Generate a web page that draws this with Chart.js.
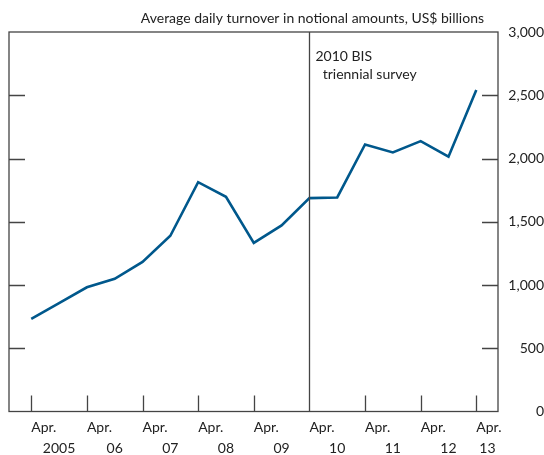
<!DOCTYPE html>
<html>
<head>
<meta charset="utf-8">
<script src="https://cdn.jsdelivr.net/npm/chart.js@4/dist/chart.umd.min.js"></script>
<style>
  html, body { margin: 0; padding: 0; background: #fff; }
  #wrap { width: 544px; height: 455px; position: relative; }
</style>
</head>
<body>
<div id="wrap"><canvas id="chTurnover"></canvas></div>
<script>
// Semiannual survey points, Apr. 2005 to Apr. 2013 (index 0..16)
const periods = [
  'Apr. 2005', 'Oct. 2005', 'Apr. 2006', 'Oct. 2006', 'Apr. 2007', 'Oct. 2007',
  'Apr. 2008', 'Oct. 2008', 'Apr. 2009', 'Oct. 2009', 'Apr. 2010', 'Oct. 2010',
  'Apr. 2011', 'Oct. 2011', 'Apr. 2012', 'Oct. 2012', 'Apr. 2013'
];
const turnover = [
  733, 857, 982, 1049, 1183, 1389, 1813, 1697, 1333, 1471,
  1687, 1692, 2111, 2048, 2137, 2014, 2542
];
const monthLabels = ['Apr.', 'Apr.', 'Apr.', 'Apr.', 'Apr.', 'Apr.', 'Apr.', 'Apr.', 'Apr.'];
const yearLabels = ['2005', '06', '07', '08', '09', '10', '11', '12', '13'];
const surveyIndex = 10; // Apr. 2010
const surveyNote = ['2010 BIS', '  triennial survey'];
const unitsTitle = 'Average daily turnover in notional amounts, US$ billions';

const FONT = 'Lato, "Open Sans", sans-serif';
const INK = '#222';
const FRAME = '#444';
const LINE = '#00588c';

const fmtInt = (v) => Number(v).toLocaleString('en-US');

// marco, marcas interiores, línea del sondeo y título
const framePlugin = {
  id: 'frame',
  afterDraw(chart) {
    const { ctx, chartArea: a, scales } = chart;
    const x = scales.x, y = scales.y;
    ctx.save();
    ctx.strokeStyle = FRAME;
    ctx.lineWidth = 1.3;
    ctx.strokeRect(a.left, a.top, a.right - a.left, a.bottom - a.top);
    ctx.beginPath();
    for (const t of y.ticks) {
      if (t.value <= 0 || t.value >= 3000) continue;
      const py = Math.round(y.getPixelForValue(t.value)) + 0.5;
      ctx.moveTo(a.left, py); ctx.lineTo(a.left + 16, py);
      ctx.moveTo(a.right - 16, py); ctx.lineTo(a.right, py);
    }
    for (const t of x.ticks) {
      const px = Math.round(x.getPixelForValue(t.value)) + 0.5;
      ctx.moveTo(px, a.bottom); ctx.lineTo(px, a.bottom - 16);
    }
    const sx = Math.round(x.getPixelForValue(surveyIndex)) + 0.5;
    ctx.moveTo(sx, a.top); ctx.lineTo(sx, a.bottom);
    ctx.stroke();

    ctx.fillStyle = INK;
    ctx.font = '14px ' + FONT;
    ctx.textBaseline = 'middle';
    ctx.textAlign = 'left';
    surveyNote.forEach((s, i) => ctx.fillText(s, sx + 6, a.top + 24 + i * 18));
    ctx.textAlign = 'right';
    ctx.fillText(unitsTitle, a.right - 14, a.top - 14);
    ctx.restore();
  }
};

new Chart(document.getElementById('chTurnover'), {
  type: 'line',
  data: {
    datasets: [{
      label: 'Turnover',
      data: turnover.map((v, i) => ({ x: i, y: v })),
      borderColor: LINE,
      borderWidth: 2.6,
      pointRadius: 0,
      tension: 0,
      fill: false
    }]
  },
  options: {
    responsive: true,
    maintainAspectRatio: false,
    animation: false,
    layout: { padding: { left: 9, top: 32, right: 0, bottom: 0 } },
    plugins: { legend: { display: false }, tooltip: { enabled: false } },
    scales: {
      x: {
        type: 'linear',
        position: 'bottom',
        min: -0.8,
        max: 16.78,
        afterBuildTicks: (s) => { s.ticks = monthLabels.map((_, i) => ({ value: i * 2 })); },
        afterFit: (s) => { s.height = 27; },
        grid: { display: false, drawTicks: false },
        border: { display: false },
        ticks: {
          align: 'start',
          padding: 8,
          color: INK,
          font: { family: FONT, size: 14 },
          maxRotation: 0,
          callback: (v, i) => monthLabels[i]
        }
      },
      xYear: {
        type: 'linear',
        position: 'bottom',
        min: -0.8,
        max: 16.78,
        afterBuildTicks: (s) => {
          s.ticks = yearLabels.map((_, i) => ({ value: Math.min(i * 2 + 1, 16.4) }));
        },
        afterFit: (s) => { s.height = 16.5; },
        grid: { display: false, drawTicks: false },
        border: { display: false },
        ticks: {
          padding: 2,
          color: INK,
          font: { family: FONT, size: 14 },
          maxRotation: 0,
          autoSkip: false,
          callback: (v, i) => yearLabels[i]
        }
      },
      y: {
        position: 'right',
        min: 0,
        max: 3000,
        afterFit: (s) => { s.width = 46; },
        grid: { display: false, drawTicks: false },
        border: { display: false },
        ticks: {
          stepSize: 500,
          crossAlign: 'far',
          padding: 0,
          color: INK,
          font: { family: FONT, size: 14 },
          callback: (v) => fmtInt(v)
        }
      }
    }
  },
  plugins: [framePlugin]
});
</script>
</body>
</html>
